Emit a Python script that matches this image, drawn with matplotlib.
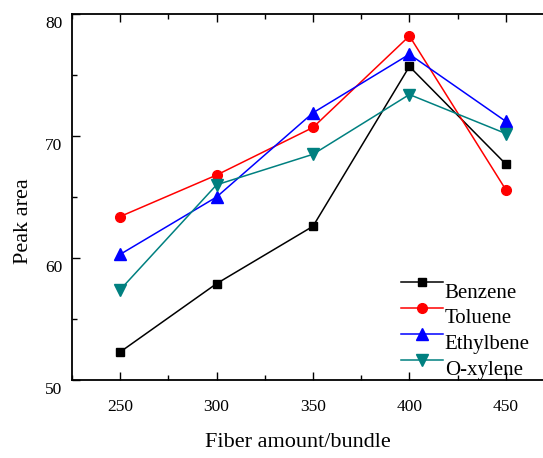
import numpy as np
import matplotlib.pyplot as plt
from matplotlib.ticker import MultipleLocator
from matplotlib.transforms import ScaledTranslation

plt.rcParams['font.family'] = ['Liberation Serif', 'DejaVu Serif']

fiber = [250, 300, 350, 400, 450]
benzene = [52.3, 57.9, 62.6, 75.7, 67.7]
toluene = [63.4, 66.8, 70.7, 78.2, 65.6]
ethylbene = [60.3, 65.0, 71.9, 76.7, 71.2]
oxylene = [57.4, 66.0, 68.5, 73.4, 70.2]

fig = plt.figure(figsize=(5.43, 4.58), dpi=100)
# right side of the box is cut off in the original
ax = fig.add_axes([72 / 543, 1 - 380 / 458, (554 - 72) / 543, (380 - 14) / 458])

ax.plot(fiber, benzene, color='black', marker='s', ms=6, lw=1.1, label='Benzene')
ax.plot(fiber, toluene, color='red', marker='o', ms=7, lw=1.1, label='Toluene')
ax.plot(fiber, ethylbene, color='blue', marker='^', ms=8, lw=1.1, label='Ethylbene')
ax.plot(fiber, oxylene, color='#008080', marker='v', ms=8, lw=1.1, label='O-xylene')

ax.set_xlim(225, 475)
ax.set_ylim(50, 80)
ax.xaxis.set_major_locator(MultipleLocator(50))
ax.xaxis.set_minor_locator(MultipleLocator(25))
ax.yaxis.set_major_locator(MultipleLocator(10))
ax.yaxis.set_minor_locator(MultipleLocator(5))
ax.tick_params(which='both', direction='in', top=True, right=False, labelsize=12.5, width=1)
ax.tick_params(which='major', length=6)
ax.tick_params(which='minor', length=3.5)
ax.tick_params(axis='x', pad=14)
ax.tick_params(axis='y', pad=7)
down = ScaledTranslation(0, -0.08, fig.dpi_scale_trans)
for lab in ax.get_yticklabels():
    lab.set_transform(lab.get_transform() + down)
for s in ax.spines.values():
    s.set_linewidth(1.3)

ax.set_xlabel('Fiber amount/bundle', fontsize=16)
ax.xaxis.set_label_coords(0.469, -0.145)
ax.set_ylabel('Peak area', fontsize=16)
ax.yaxis.set_label_coords(-0.081, 0.434)

leg = ax.legend(loc='upper left', bbox_to_anchor=(401 / 543, 1 - 275 / 458),
                bbox_transform=fig.transFigure, frameon=False, fontsize=15,
                borderpad=0, borderaxespad=0, handlelength=2.0, handletextpad=0.1,
                labelspacing=0.3)
for t in leg.get_texts():
    t.set_transform(t.get_transform() + down)

fig.savefig('out.png', dpi=100)
